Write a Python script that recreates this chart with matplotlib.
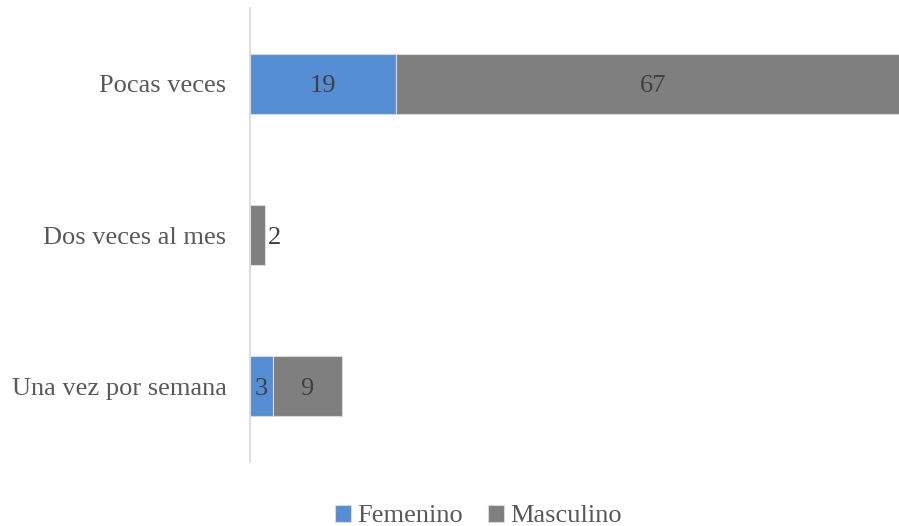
import matplotlib
matplotlib.use("Agg")
import matplotlib.pyplot as plt

categories = ["Una vez por semana", "Dos veces al mes", "Pocas veces"]
femenino = [3, 0, 19]
masculino = [9, 2, 67]
series_names = ["Femenino", "Masculino"]
colors = ["#558ED5", "#7F7F7F"]

plt.rcParams['font.family'] = ['Liberation Serif', 'DejaVu Serif']

fig = plt.figure(figsize=(8.99, 5.26), dpi=100)
ax = fig.add_axes([250/899, 1-462/526, 1-250/899, 454/526])

ypos = list(range(len(categories)))
h = 0.395
b1 = ax.barh(ypos, femenino, height=h, color=colors[0], edgecolor="#D9D9D9", linewidth=0.8, label=series_names[0])
b2 = ax.barh(ypos, masculino, left=femenino, height=h, color=colors[1], edgecolor="#D9D9D9", linewidth=0.8, label=series_names[1])

fs = 19
lab_col = "#404040"
dy = -0.018
for i in ypos:
    f = femenino[i]
    m = masculino[i]
    if f > 0:
        ax.text(f/2, i + dy, str(f), ha="center", va="center", fontsize=fs, color=lab_col)
    if m > 0:
        if m >= 5:
            ax.text(f + m/2 - 0.2, i + dy, str(m), ha="center", va="center", fontsize=fs, color=lab_col)
        else:
            ax.text(f + m + 0.3, i + dy, str(m), ha="left", va="center", fontsize=fs, color=lab_col)

ax.set_xlim(0, 84.2)
ax.set_ylim(-0.5, 2.5)
ax.set_yticks(ypos)
ax.set_yticklabels(categories, fontsize=fs, color="#595959")
ax.tick_params(axis="y", length=0, pad=17)
ax.set_xticks([])
for s in ["top", "right", "bottom"]:
    ax.spines[s].set_visible(False)
ax.spines["left"].set_color("#D9D9D9")
ax.spines["left"].set_linewidth(1.2)

leg = fig.legend(handles=[b1, b2], labels=series_names, loc="center",
                 bbox_to_anchor=(478/899, 1-516/526), ncol=2, frameon=False,
                 fontsize=fs, handlelength=0.62, handleheight=0.62,
                 handletextpad=0.22, columnspacing=0.95)
for t in leg.get_texts():
    t.set_color("#595959")

fig.savefig("out.png", dpi=100)
